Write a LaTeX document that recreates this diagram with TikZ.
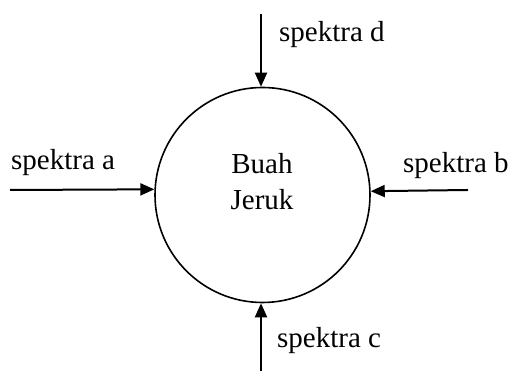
\documentclass[tikz,border=0pt]{standalone}
\usepackage{fontspec}
\setmainfont{Liberation Serif}
\usetikzlibrary{arrows.meta}
\begin{document}
\begin{tikzpicture}[x=1pt,y=1pt,
  inarrow/.style={line width=2pt,-{Triangle[length=14pt,width=12pt]}},
  lbl/.style={anchor=base west,inner sep=0pt,font=\fontsize{29}{35}\selectfont},
  ctext/.style={anchor=base,inner sep=0pt,font=\fontsize{29}{35}\selectfont}]
\useasboundingbox (0,0) rectangle (509,371);
\node[circle,draw,line width=1.6pt,minimum size=215pt,inner sep=0pt] (c) at (262.5,176) {};
\node[ctext] (t1) at (262,197) {Buah};
\node[ctext] (t2) at (262,161) {Jeruk};
\coordinate (a0) at (10,181);
\coordinate (b0) at (468,181);
\coordinate (d0) at (261,357);
\coordinate (c0) at (261,0);
\draw[inarrow] (a0) -- (c.177.3);
\draw[inarrow] (b0) -- (c.2.7);
\draw[inarrow] (d0) -- (d0 |- c.north);
\draw[inarrow] (c0) -- (c0 |- c.south);
\node[lbl] (la) at (11,201) {spektra a};
\node[lbl] (lb) at (403,198) {spektra b};
\node[lbl] (ld) at (279,329) {spektra d};
\node[lbl] (lc) at (277,23) {spektra c};
\end{tikzpicture}
\end{document}
